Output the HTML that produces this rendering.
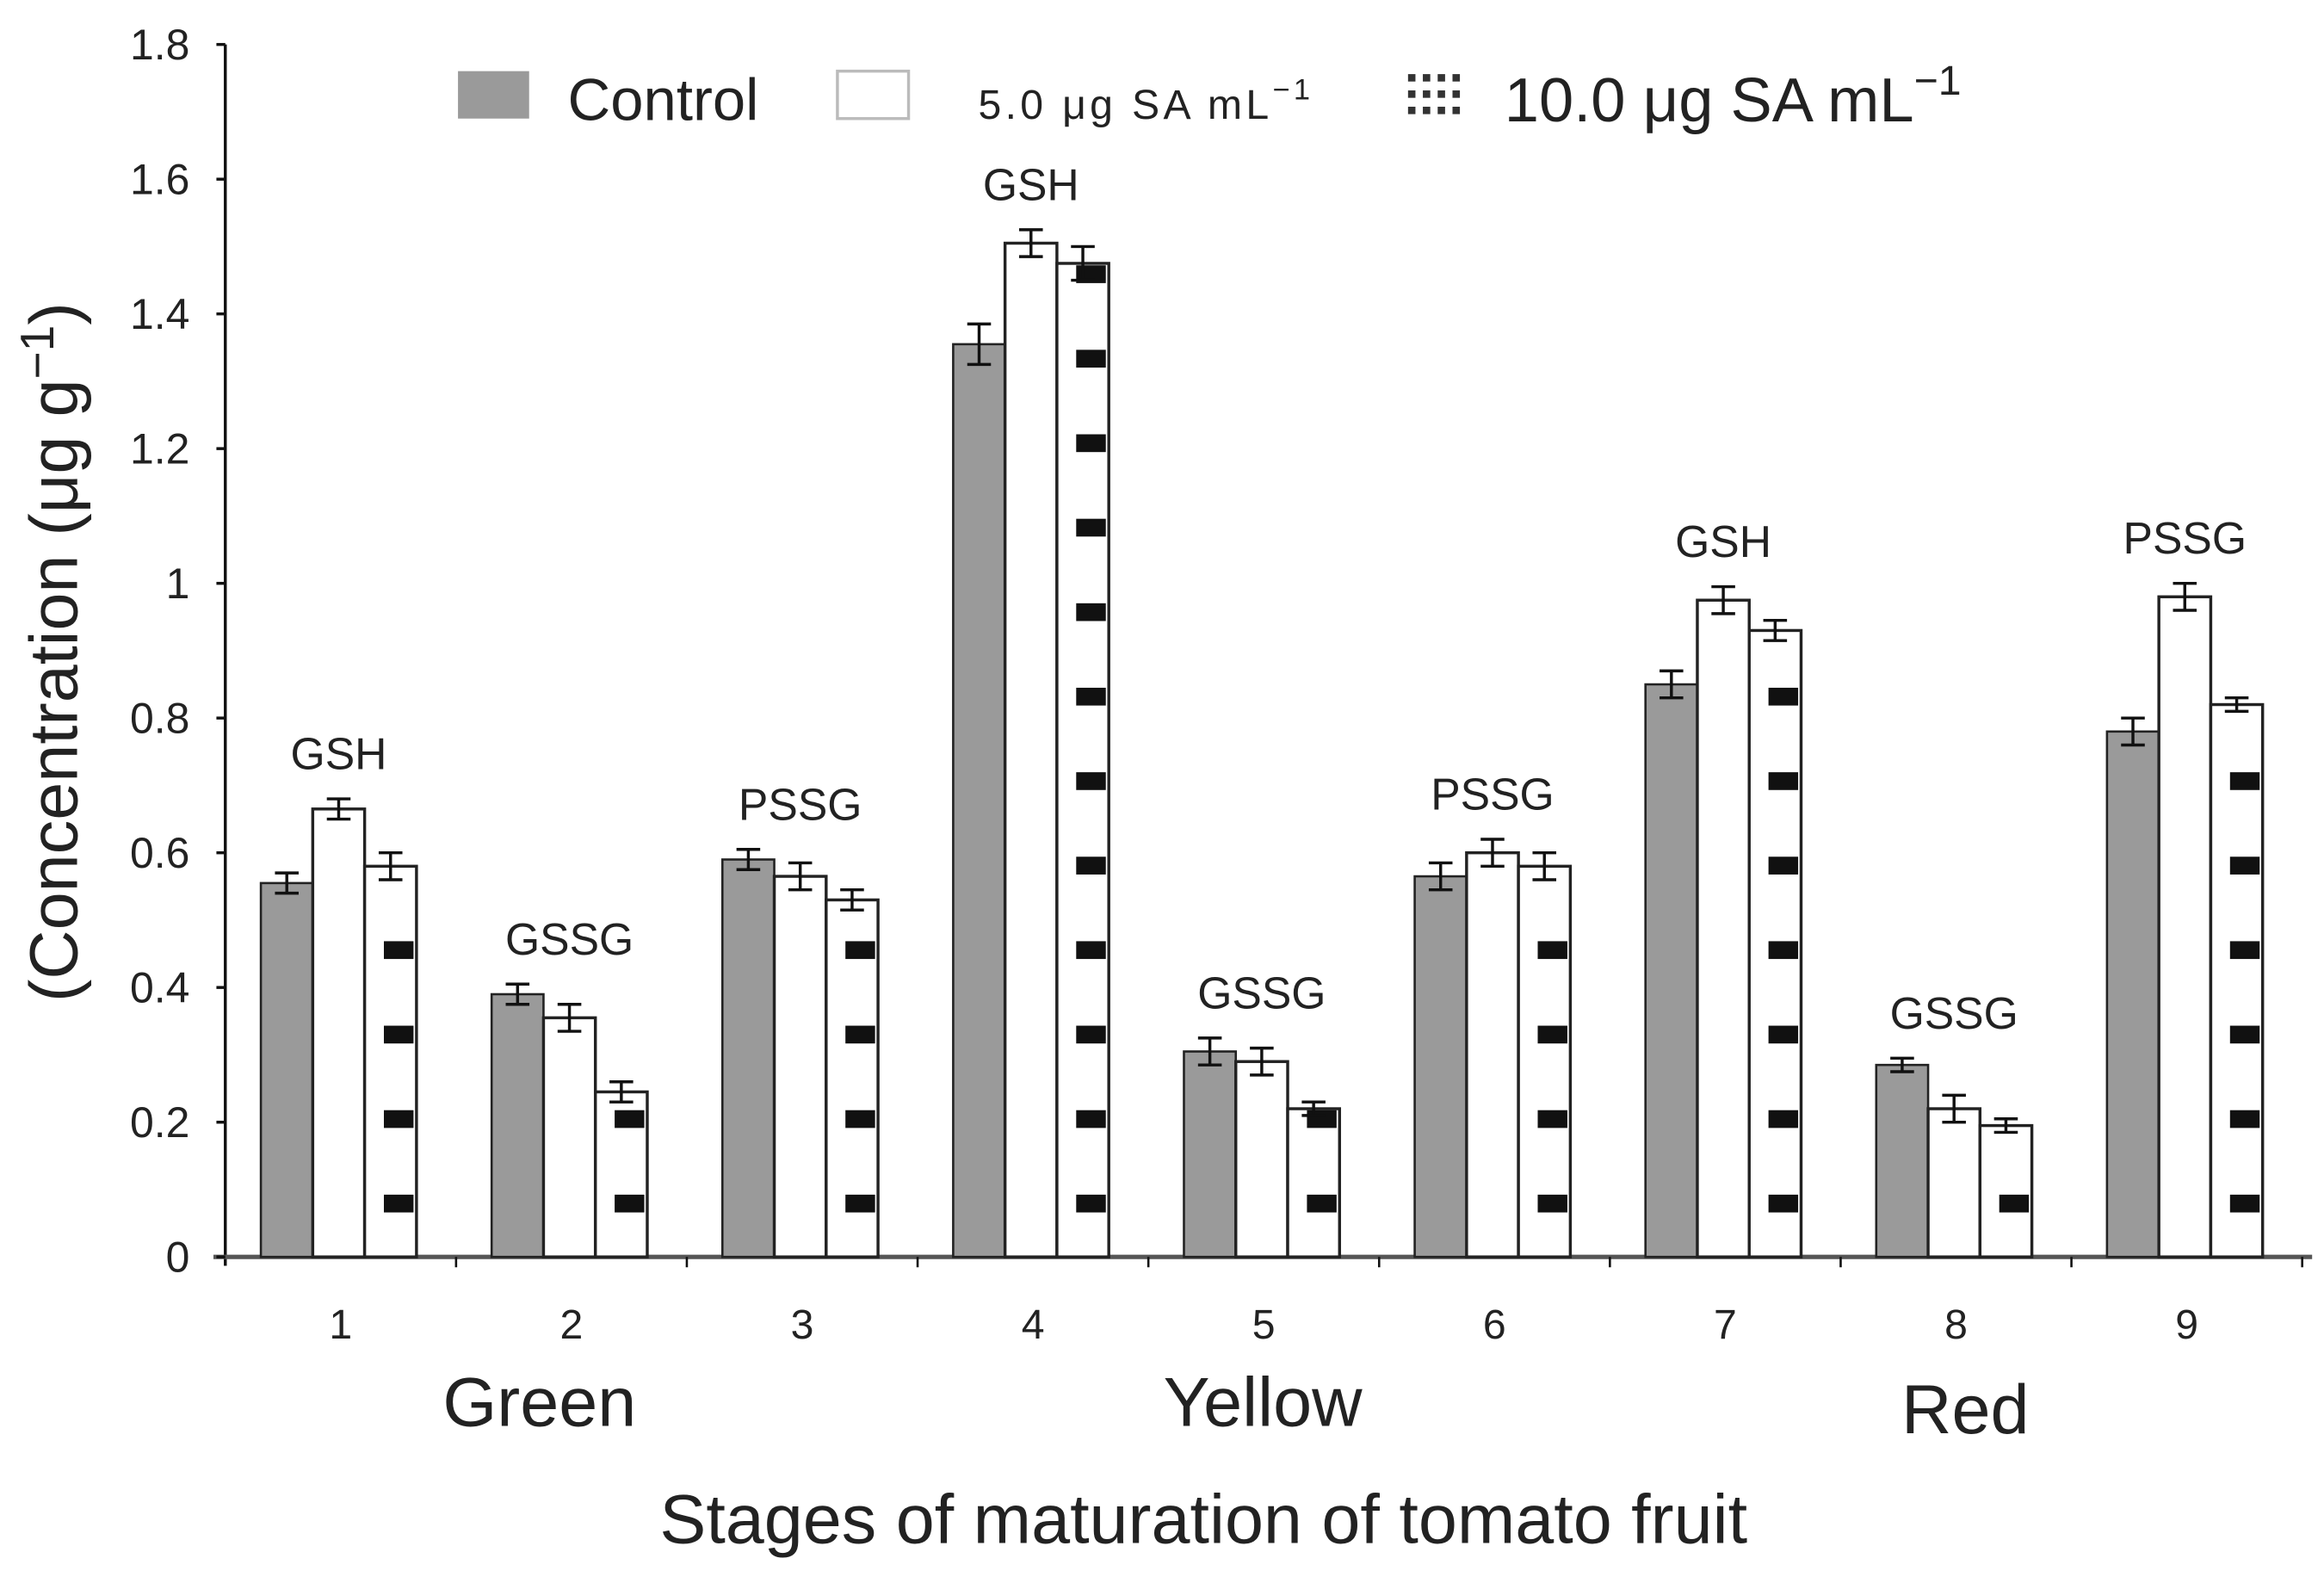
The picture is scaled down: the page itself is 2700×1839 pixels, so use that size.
<!DOCTYPE html>
<html><head><meta charset="utf-8"><style>
html,body{margin:0;padding:0;background:#fff;}
svg{display:block;font-family:"Liberation Sans",Arial,sans-serif;}
</style></head><body>
<svg id="chart" width="2700" height="1839" viewBox="0 0 1568 1068" xmlns="http://www.w3.org/2000/svg">
<g id="axes"></g>
<g id="bars"></g>
<g id="legend">
  <rect x="309" y="48" width="48" height="32" fill="#9a9a9a"/>
  <text x="383" y="81" font-size="40" fill="#222">Control</text>
  <rect x="565" y="48" width="48" height="32" fill="#fff" stroke="#bbb" stroke-width="2"/>
  <text x="660" y="80" font-size="28" letter-spacing="2.5" fill="#222">5.0 μg SA mL<tspan font-size="20" dy="-13">−1</tspan></text>
  <g fill="#333">
    <rect x="950" y="50" width="5" height="5"/><rect x="960" y="50" width="5" height="5"/><rect x="970" y="50" width="5" height="5"/><rect x="980" y="50" width="5" height="5"/>
    <rect x="950" y="61" width="5" height="5"/><rect x="960" y="61" width="5" height="5"/><rect x="970" y="61" width="5" height="5"/><rect x="980" y="61" width="5" height="5"/>
    <rect x="950" y="72" width="5" height="5"/><rect x="960" y="72" width="5" height="5"/><rect x="970" y="72" width="5" height="5"/><rect x="980" y="72" width="5" height="5"/>
  </g>
  <text x="1015" y="82" font-size="42" fill="#222">10.0 μg SA mL<tspan font-size="28" dy="-18">−1</tspan></text>
</g>
<text x="364" y="962" font-size="47" text-anchor="middle" fill="#222">Green</text>
<text x="852" y="962" font-size="47" text-anchor="middle" fill="#222">Yellow</text>
<text x="1326" y="967" font-size="47" text-anchor="middle" fill="#222">Red</text>
<text x="812" y="1041" font-size="47" text-anchor="middle" fill="#222">Stages of maturation of tomato fruit</text>
<text transform="translate(52,440) rotate(-90)" font-size="46" text-anchor="middle" fill="#222">(Concentration (μg g<tspan font-size="32" dy="-16">−1</tspan><tspan dy="16">)</tspan></text>
</svg>
<script>
const categories = ["1","2","3","4","5","6","7","8","9"];
const controlVals = [0.555,0.39,0.59,1.355,0.305,0.565,0.85,0.285,0.78];
const sa5Vals = [0.665,0.355,0.565,1.505,0.29,0.6,0.975,0.22,0.98];
const sa10Vals = [0.58,0.245,0.53,1.475,0.22,0.58,0.93,0.195,0.82];
const controlErr = [0.015,0.015,0.015,0.03,0.02,0.02,0.02,0.01,0.02];
const sa5Err = [0.015,0.02,0.02,0.02,0.02,0.02,0.02,0.02,0.02];
const sa10Err = [0.02,0.015,0.015,0.025,0.01,0.02,0.015,0.01,0.01];
const annotations = ["GSH","GSSG","PSSG","GSH","GSSG","PSSG","GSH","GSSG","PSSG"];
const yTicks = [0,0.2,0.4,0.6,0.8,1,1.2,1.4,1.6,1.8];
const yTickLabels = ["0","0.2","0.4","0.6","0.8","1","1.2","1.4","1.6","1.8"];

const NS="http://www.w3.org/2000/svg";
const X0=152, Y0=848, YTOP=30, YMAX=1.8, CW=155.7, BW=35, OFF=24;
const y = v => Y0 - v/YMAX*(Y0-YTOP);
const xCat = i => X0 + i*CW;
function mk(tag, attrs, parent){const e=document.createElementNS(NS,tag);for(const k in attrs)e.setAttribute(k,attrs[k]);parent.appendChild(e);return e;}
const axes=document.getElementById('axes'), bars=document.getElementById('bars');

let ax=mk('line',{x1:X0,y1:YTOP,x2:X0,y2:Y0+6,stroke:'#111','stroke-width':2},axes);


let bx=mk('line',{x1:X0-8,y1:Y0,x2:1560,y2:Y0,stroke:'#555','stroke-width':3},axes);


yTicks.forEach((t,i)=>{
  const tk=mk('line',{x1:X0-6,y1:y(t),x2:X0,y2:y(t),stroke:'#111','stroke-width':2},axes);
  
  
  const tl=mk('text',{x:128,y:y(t)+10,'font-size':29,'text-anchor':'end',fill:'#222'},axes);
  tl.textContent=yTickLabels[i];
  
  
});
categories.forEach((c,i)=>{
  const tk=mk('line',{x1:xCat(i+1),y1:Y0,x2:xCat(i+1),y2:Y0+7,stroke:'#111','stroke-width':1.5},axes);
  
  
  const tl=mk('text',{x:xCat(i)+CW/2,y:903,'font-size':28,'text-anchor':'middle',fill:'#222'},axes);
  tl.textContent=c;
  
  
});
function errBar(cx,v,e){
  const g=mk('g',{stroke:'#111','stroke-width':2},bars);
  
  
  mk('line',{x1:cx,y1:y(v+e),x2:cx,y2:y(v-e)},g);
  mk('line',{x1:cx-8,y1:y(v+e),x2:cx+8,y2:y(v+e)},g);
  mk('line',{x1:cx-8,y1:y(v-e),x2:cx+8,y2:y(v-e)},g);
}
categories.forEach((c,i)=>{
  const x1=xCat(i)+OFF, x2=x1+BW, x3=x2+BW;
  const b1=mk('rect',{x:x1,y:y(controlVals[i]),width:BW,height:Y0-y(controlVals[i]),fill:'#9a9a9a',stroke:'#222','stroke-width':1.5},bars);
  
  
  const b2=mk('rect',{x:x2,y:y(sa5Vals[i]),width:BW,height:Y0-y(sa5Vals[i]),fill:'#fff',stroke:'#222','stroke-width':2},bars);
  
  
  const top3=y(sa10Vals[i]);
  const b3=mk('rect',{x:x3,y:top3,width:BW,height:Y0-top3,fill:'#fff',stroke:'#222','stroke-width':2},bars);
  
  
  for(let py=Y0-36; py>top3+6; py-=57){
    const p=mk('rect',{x:x3+BW-22,y:py-6,width:20,height:12,fill:'#111'},bars);
    
    
  }
  errBar(x1+BW/2,controlVals[i],controlErr[i]);
  errBar(x2+BW/2,sa5Vals[i],sa5Err[i]);
  errBar(x3+BW/2,sa10Vals[i],sa10Err[i]);
  const mx=Math.max(controlVals[i]+controlErr[i],sa5Vals[i]+sa5Err[i],sa10Vals[i]+sa10Err[i]);
  const an=mk('text',{x:x2+BW/2,y:y(mx)-20,'font-size':30,'text-anchor':'middle',fill:'#222'},bars);
  an.textContent=annotations[i];
  
  
});
</script>
</body></html>
